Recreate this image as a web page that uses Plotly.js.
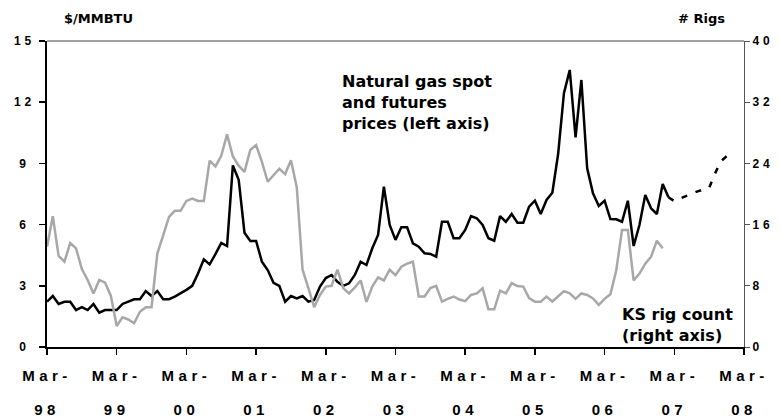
<!DOCTYPE html>
<html><head><meta charset="utf-8">
<script src="https://cdn.plot.ly/plotly-3.0.1.min.js"></script>
<style>
html,body{margin:0;padding:0;background:#fff;}
#chart{width:779px;height:418px;}
.xtick text, .x2tick text { letter-spacing: 4.5px; font-weight: bold !important; }
.ytick text { letter-spacing: 4px; text-anchor: middle; font-weight: bold !important; }
.y2tick text { letter-spacing: 4px; font-weight: bold !important; }
</style></head><body><div id="chart"></div><script>
// Month offsets are counted from Mar-98 (0) to Mar-08 (120)
const tickPos   = [0, 12, 24, 36, 48, 60, 72, 84, 96, 108, 120];
const tickMonth = ['Mar-','Mar-','Mar-','Mar-','Mar-','Mar-','Mar-','Mar-','Mar-','Mar-','Mar-'];
const tickYear  = ['98','99','00','01','02','03','04','05','06','07','08'];

// Natural gas spot price, $/MMBTU, monthly from Mar-98
const spotPrices = [
 2.22,2.50,2.11,2.22,2.22,1.81,1.95,1.81,2.11,1.68,1.81,1.81,
 1.81,2.11,2.22,2.34,2.34,2.74,2.50,2.74,2.34,2.34,2.47,2.63,
 2.80,3.00,3.60,4.30,4.05,4.55,5.10,4.95,8.90,8.20,5.60,5.20,
 5.20,4.18,3.77,3.15,3.00,2.22,2.50,2.38,2.50,2.22,2.30,2.96,
 3.38,3.53,3.20,3.00,3.12,3.53,4.18,4.02,4.84,5.49,7.86,5.98,
 5.25,5.87,5.87,5.08,4.92,4.59,4.56,4.43,6.14,6.14,5.33,5.33,
 5.74,6.42,6.31,5.98,5.33,5.21,6.42,6.14,6.52,6.09,6.09,6.88,
 7.17,6.52,7.21,7.56,9.46,12.44,13.58,10.28,13.09,8.76,7.53,6.91,
 7.17,6.27,6.26,6.14,7.17,4.95,5.98,7.45,6.80,6.52,7.99,7.34
];

// Futures strip (dashed), month offsets and $/MMBTU
const futuresMonths = [107,108,109,110,111,112,113,114,115,116,117];
const futuresPrices = [7.34,7.15,7.28,7.40,7.52,7.63,7.72,7.80,8.50,9.10,9.35];

// Kansas rig count, monthly from Mar-98
const rigCount = [
 13.1,17.1,11.9,11.15,13.6,12.9,10.2,8.76,7.0,8.76,8.4,6.67,
 2.75,3.88,3.6,3.1,4.6,5.2,5.2,12.25,14.6,17.0,17.8,17.8,
 19.1,19.4,19.1,19.1,24.35,23.6,25.0,27.8,24.9,23.7,22.9,25.75,
 26.4,24.2,21.6,22.5,23.3,22.6,24.4,20.9,10.1,7.7,5.2,6.8,
 7.9,8.0,10.1,7.7,7.0,7.8,8.7,5.9,7.9,9.1,8.7,10.1,
 9.4,10.5,10.9,11.15,6.6,6.6,7.7,8.0,5.93,6.3,6.6,6.2,
 6.0,6.8,7.0,7.67,4.93,4.93,7.36,7.0,8.35,7.97,7.9,6.4,
 5.93,5.93,6.58,5.95,6.6,7.3,7.0,6.3,7.0,6.8,6.35,5.5,
 6.3,6.9,10.0,15.3,15.3,8.7,9.6,10.9,11.8,13.9,12.9
];

const leftTicks  = [0, 3, 6, 9, 12, 15];
const rightTicks = [0, 8, 16, 24, 32, 40];

const spotX = spotPrices.map((_, i) => i);
const rigX  = rigCount.map((_, i) => i);

const tickFont = {family: 'Liberation Sans, Arial, sans-serif', size: 15, color: '#000', weight: 700};
const yFont    = {family: 'Liberation Sans, Arial, sans-serif', size: 12, color: '#000', weight: 700};
const noteFont = {family: 'DejaVu Sans, Verdana, sans-serif', size: 16, color: '#000', weight: 700};
const unitFont = {family: 'DejaVu Sans, Verdana, sans-serif', size: 13, color: '#000', weight: 700};

const traces = [
  {x: rigX, y: rigCount, type: 'scatter', mode: 'lines', xaxis: 'x2', yaxis: 'y2',
   line: {color: '#a8a8a8', width: 2.5}, hoverinfo: 'skip'},
  {x: spotX, y: spotPrices, type: 'scatter', mode: 'lines', xaxis: 'x', yaxis: 'y',
   line: {color: '#000', width: 2.5}, hoverinfo: 'skip'},
  {x: futuresMonths, y: futuresPrices, type: 'scatter', mode: 'lines', xaxis: 'x', yaxis: 'y',
   line: {color: '#000', width: 2.5, dash: '6px,9px'}, hoverinfo: 'skip'}
];

const layout = {
  width: 779, height: 418,
  margin: {l: 47, r: 35, t: 41, b: 71, pad: 0},
  paper_bgcolor: '#fff', plot_bgcolor: '#fff',
  showlegend: false,
  xaxis: {range: [0, 120], tickmode: 'array', tickvals: tickPos, ticktext: tickMonth,
          ticks: 'outside', ticklen: 6, tickwidth: 1.5, tickcolor: '#000',
          showline: true, linecolor: '#000', linewidth: 2, showgrid: false, zeroline: false,
          tickfont: tickFont, tickangle: 0, ticklabelstandoff: 8},
  xaxis2: {range: [0, 120], overlaying: 'x', anchor: 'y2', side: 'bottom',
           tickmode: 'array', tickvals: tickPos, ticktext: tickYear,
           ticks: '', showline: false, showgrid: false, zeroline: false,
           tickfont: tickFont, tickangle: 0, ticklabelstandoff: 52},
  yaxis: {range: [0, 15], tickmode: 'array', tickvals: leftTicks,
          ticks: 'outside', ticklen: 6, tickwidth: 1.5, tickcolor: '#000',
          showline: true, linecolor: '#000', linewidth: 2, showgrid: false, zeroline: false,
          tickfont: yFont, ticklabelstandoff: 12},
  yaxis2: {range: [0, 40], overlaying: 'y', anchor: 'x2', side: 'right', tickmode: 'array', tickvals: rightTicks,
           ticks: 'outside', ticklen: 5, tickwidth: 1, tickcolor: '#555',
           showline: true, linecolor: '#555', linewidth: 1, showgrid: false, zeroline: false,
           tickfont: yFont, ticklabelstandoff: 0},
  shapes: [{type: 'line', xref: 'paper', yref: 'paper', x0: 0, x1: 1, y0: 1, y1: 1,
            line: {color: '#444', width: 1}}],
  annotations: [
    {xref: 'paper', yref: 'paper', x: 0.0746, y: 1.075, xanchor: 'center', yanchor: 'middle',
     text: '$/MMBTU', showarrow: false, font: unitFont},
    {xref: 'paper', yref: 'paper', x: 0.9393, y: 1.075, xanchor: 'center', yanchor: 'middle',
     text: '# Rigs', showarrow: false, font: unitFont},
    {xref: 'paper', yref: 'paper', x: 0.4204, y: 0.905, xanchor: 'left', yanchor: 'top', align: 'left',
     text: 'Natural gas spot<br>and futures<br>prices (left axis)', showarrow: false, font: noteFont},
    {xref: 'paper', yref: 'paper', x: 0.822, y: 0.145, xanchor: 'left', yanchor: 'top', align: 'left',
     text: 'KS rig count<br>(right axis)', showarrow: false, font: noteFont}
  ]
};

Plotly.newPlot('chart', traces, layout, {staticPlot: true, displayModeBar: false});
</script></body></html>
